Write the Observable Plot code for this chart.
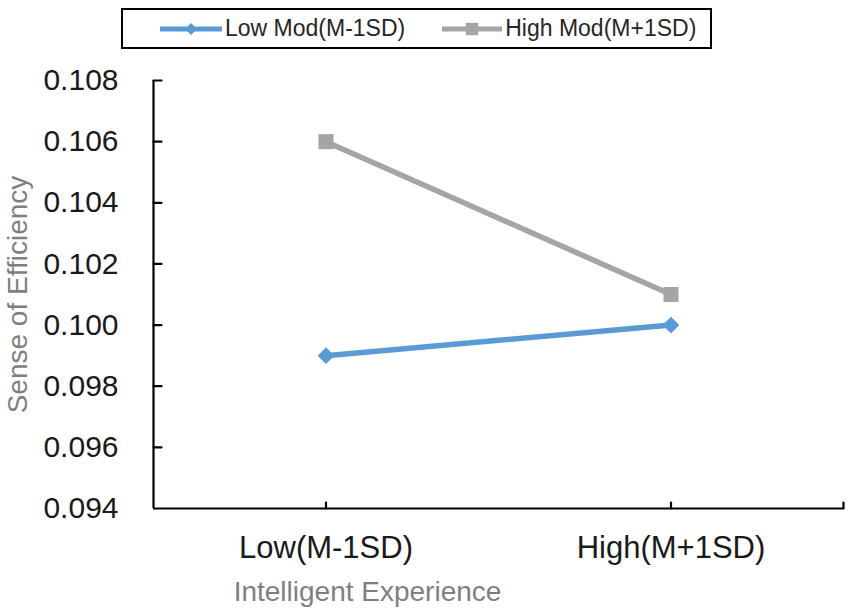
<!DOCTYPE html>
<html><head><meta charset="utf-8">
<script src="https://cdn.jsdelivr.net/npm/d3@7"></script>
<script src="https://cdn.jsdelivr.net/npm/@observablehq/plot@0.6"></script>
<style>
body{margin:0;background:#fff;font-family:"Liberation Sans",Arial,sans-serif;}
#wrap{position:relative;width:851px;height:615px;}
#legend{position:absolute;left:121px;top:8px;width:587px;height:37px;border:2px solid #000;background:#fff;display:flex;align-items:center;font-size:23px;color:#262626;}
#legend .item{display:flex;align-items:center;}
#legend svg{display:block;}
</style></head><body><div id="wrap"><div id="legend"></div></div>
<script>
const categories = ["Low(M-1SD)", "High(M+1SD)"];
const seriesNames = ["Low Mod(M-1SD)", "High Mod(M+1SD)"];
const lowMod = [0.099, 0.100];
const highMod = [0.106, 0.101];
const yTicks = [0.094, 0.096, 0.098, 0.100, 0.102, 0.104, 0.106, 0.108];
const xTitle = "Intelligent Experience";
const yTitle = "Sense of Efficiency";
const colors = ["#5B9BD5", "#A5A5A5"];
const symbols = ["diamond2", "square"];

const seriesValues = [lowMod, highMod];
const rows = seriesNames.flatMap((s, si) => categories.map((c, ci) => ({series: s, cat: c, pos: ci + 0.5, value: seriesValues[si][ci]})));
const catRows = categories.map((c, ci) => ({cat: c, pos: ci + 0.5}));
const tickShape = {draw(context, l) { context.moveTo(0, 0); context.lineTo(0, -l); }};

const chart = Plot.plot({
  width: 851, height: 615,
  marginLeft: 153, marginRight: 8, marginTop: 80, marginBottom: 107,
  style: {fontFamily: "Liberation Sans, Arial, sans-serif", background: "#fff"},
  x: {domain: [0, categories.length], axis: null},
  y: {domain: [yTicks[0], yTicks[yTicks.length - 1]], axis: null},
  color: {domain: seriesNames, range: colors},
  symbol: {domain: seriesNames, range: symbols},
  marks: [
    Plot.ruleY([yTicks[0]], {stroke: "#000", strokeWidth: 2.2}),
    Plot.ruleX([0], {y1: yTicks[0], y2: yTicks[yTicks.length - 1], stroke: "#000", strokeWidth: 2.2}),
    Plot.vector(yTicks.slice(1), {x: 0, y: d => d, length: 8, rotate: 90, anchor: "start", shape: tickShape, stroke: "#000", strokeWidth: 2.2}),
    Plot.vector([...catRows.map(d => d.pos), categories.length], {x: d => d, y: yTicks[0], length: 6, rotate: 0, anchor: "start", shape: tickShape, stroke: "#000", strokeWidth: 2.2}),
    Plot.text(yTicks, {y: d => d, frameAnchor: "left", dx: -35, textAnchor: "end", lineAnchor: "middle", text: d => d.toFixed(3), fontSize: 30, fill: "#1a1a1a"}),
    Plot.text(catRows, {x: "pos", frameAnchor: "bottom", dy: 40, textAnchor: "middle", lineAnchor: "middle", text: "cat", fontSize: 31, fill: "#1a1a1a"}),
    Plot.text([xTitle], {frameAnchor: "bottom", dx: -131, dy: 84, textAnchor: "middle", lineAnchor: "middle", text: d => d, fontSize: 28, fill: "#7f7f7f"}),
    Plot.text([yTitle], {frameAnchor: "left", dx: -135, rotate: -90, textAnchor: "middle", lineAnchor: "middle", text: d => d, fontSize: 28, fill: "#7f7f7f"}),
    Plot.line(rows, {x: "pos", y: "value", z: "series", stroke: "series", strokeWidth: 5.5}),
    Plot.dot(rows.filter(d => d.series === seriesNames[0]), {x: "pos", y: "value", symbol: "series", fill: "series", stroke: null, r: 7.5}),
    Plot.dot(rows.filter(d => d.series === seriesNames[1]), {x: "pos", y: "value", symbol: "series", fill: "series", stroke: null, r: 8.5})
  ]
});
document.getElementById("wrap").appendChild(chart);

// legend
const legend = document.getElementById("legend");
const legendGeom = [{pad: 37, w: 62}, {pad: 37, w: 60}];
seriesNames.forEach((s, i) => {
  const item = document.createElement("div");
  item.className = "item";
  item.style.marginLeft = legendGeom[i].pad + "px";
  const w = legendGeom[i].w;
  const sym = d3.symbol(d3[i === 0 ? "symbolDiamond2" : "symbolSquare"], i === 0 ? 90 : 150)();
  item.innerHTML = `<svg width="${w}" height="20"><line x1="0" x2="${w}" y1="10" y2="10" stroke="${colors[i]}" stroke-width="5" stroke-linecap="round"/><path d="${sym}" transform="translate(${w/2},10)" fill="${colors[i]}"/></svg><span style="margin-left:3px">${s}</span>`;
  legend.appendChild(item);
});
</script>
</body></html>
